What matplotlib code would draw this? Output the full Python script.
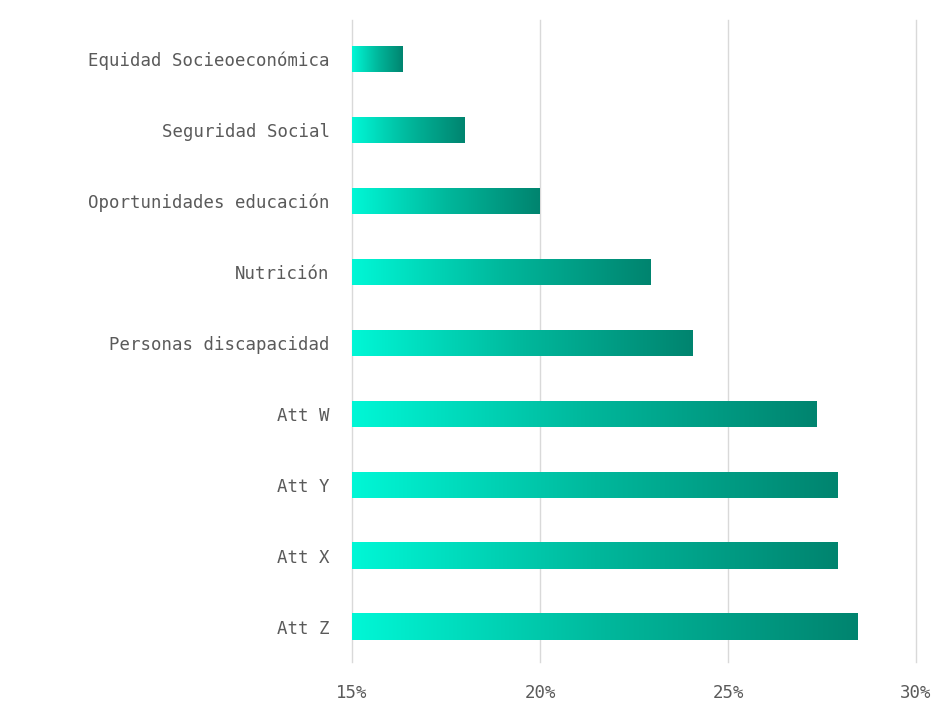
import matplotlib
matplotlib.use("Agg")
import matplotlib.pyplot as plt
import numpy as np
from matplotlib.colors import LinearSegmentedColormap
from matplotlib.ticker import FuncFormatter

categories = ["Equidad Socieoeconómica", "Seguridad Social", "Oportunidades educación",
              "Nutrición", "Personas discapacidad", "Att W", "Att Y", "Att X", "Att Z"]
values = [16.35, 18.0, 20.0, 22.95, 24.05, 27.35, 27.9, 27.9, 28.45]
xticks = [15, 20, 25, 30]

plt.rcParams['font.family'] = ['DejaVu Sans Mono', 'DejaVu Sans']

fig = plt.figure(figsize=(9.5, 7.02), dpi=100)
ax = fig.add_axes([352/950, 1 - 662/702, (916-352)/950, (662-20)/702])

cmap = LinearSegmentedColormap.from_list("tealgrad", ["#00f7d6", "#00b89c", "#00846f"])
grad = np.linspace(0, 1, 256).reshape(1, -1)

y = np.arange(len(categories))
bars = ax.barh(y, [v - 15 for v in values], left=15, height=0.37,
               color="none", edgecolor="none", zorder=3)
for b in bars:
    x0, y0 = b.get_x(), b.get_y()
    w, h = b.get_width(), b.get_height()
    im = ax.imshow(grad, cmap=cmap, aspect="auto", extent=[x0, x0 + w, y0 + h, y0],
                   zorder=3, interpolation="bicubic")
    im.set_clip_path(b)

ax.set_xlim(15, 30)
ax.set_ylim(8.5, -0.55)
ax.set_xticks(xticks)
ax.xaxis.set_major_formatter(FuncFormatter(lambda v, p: f"{int(v)}%"))
ax.set_yticks(y)
ax.set_yticklabels(categories)
ax.grid(axis="x", color="#d9d9d9", linewidth=1, zorder=0)
for gl in ax.get_xgridlines():
    gl.set_clip_on(False)
ax.set_axisbelow(True)
for s in ax.spines.values():
    s.set_visible(False)
ax.tick_params(axis="both", length=0, colors="#5a5a5a", labelsize=12.5)
ax.tick_params(axis="y", pad=16)
ax.tick_params(axis="x", pad=16)

fig.savefig("out.png", dpi=100, facecolor="white")
